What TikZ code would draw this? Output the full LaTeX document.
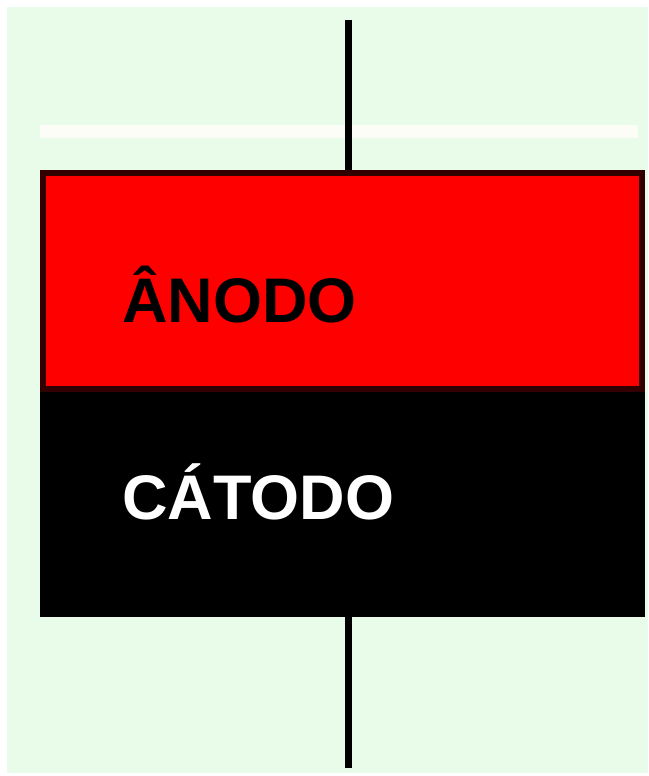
\documentclass[tikz,border=0pt]{standalone}
\usepackage{fontspec}
\setmainfont{Liberation Sans}
\definecolor{bg}{RGB}{233,251,233}
\definecolor{band}{RGB}{252,253,246}
\definecolor{rim}{RGB}{50,0,0}
\begin{document}
\begin{tikzpicture}[x=1pt,y=-1pt,
  lead/.style={line width=7pt,black},
  anodebox/.style={draw=rim,line width=6pt,fill=red,inner sep=0pt,minimum width=599pt,minimum height=216pt},
  cathodebox/.style={fill=black,inner sep=0pt,minimum width=605pt,minimum height=226pt},
  lbl/.style={font=\fontsize{63}{70}\selectfont\bfseries,anchor=base west,inner sep=0pt}]
\useasboundingbox (0,0) rectangle (648,776);
\fill[white] (0,0) rectangle (648,776);
\fill[bg] (7,7) rectangle (648,773);
\fill[band] (40,125) rectangle (638,138);
\coordinate (top) at (348.5,20);
\coordinate (bot) at (348.5,768);
\node[cathodebox] (cat) at (342.5,504) {};
\node[anodebox] (an) at (342.5,281) {};
\draw[lead] (top) -- (top |- an.north);
\draw[lead] (bot) -- (bot |- cat.south);
\node[lbl,text=black] (anlbl) at (122,322) {ÂNODO};
\node[lbl,text=white] (catlbl) at (122,519) {CÁTODO};
\end{tikzpicture}
\end{document}
